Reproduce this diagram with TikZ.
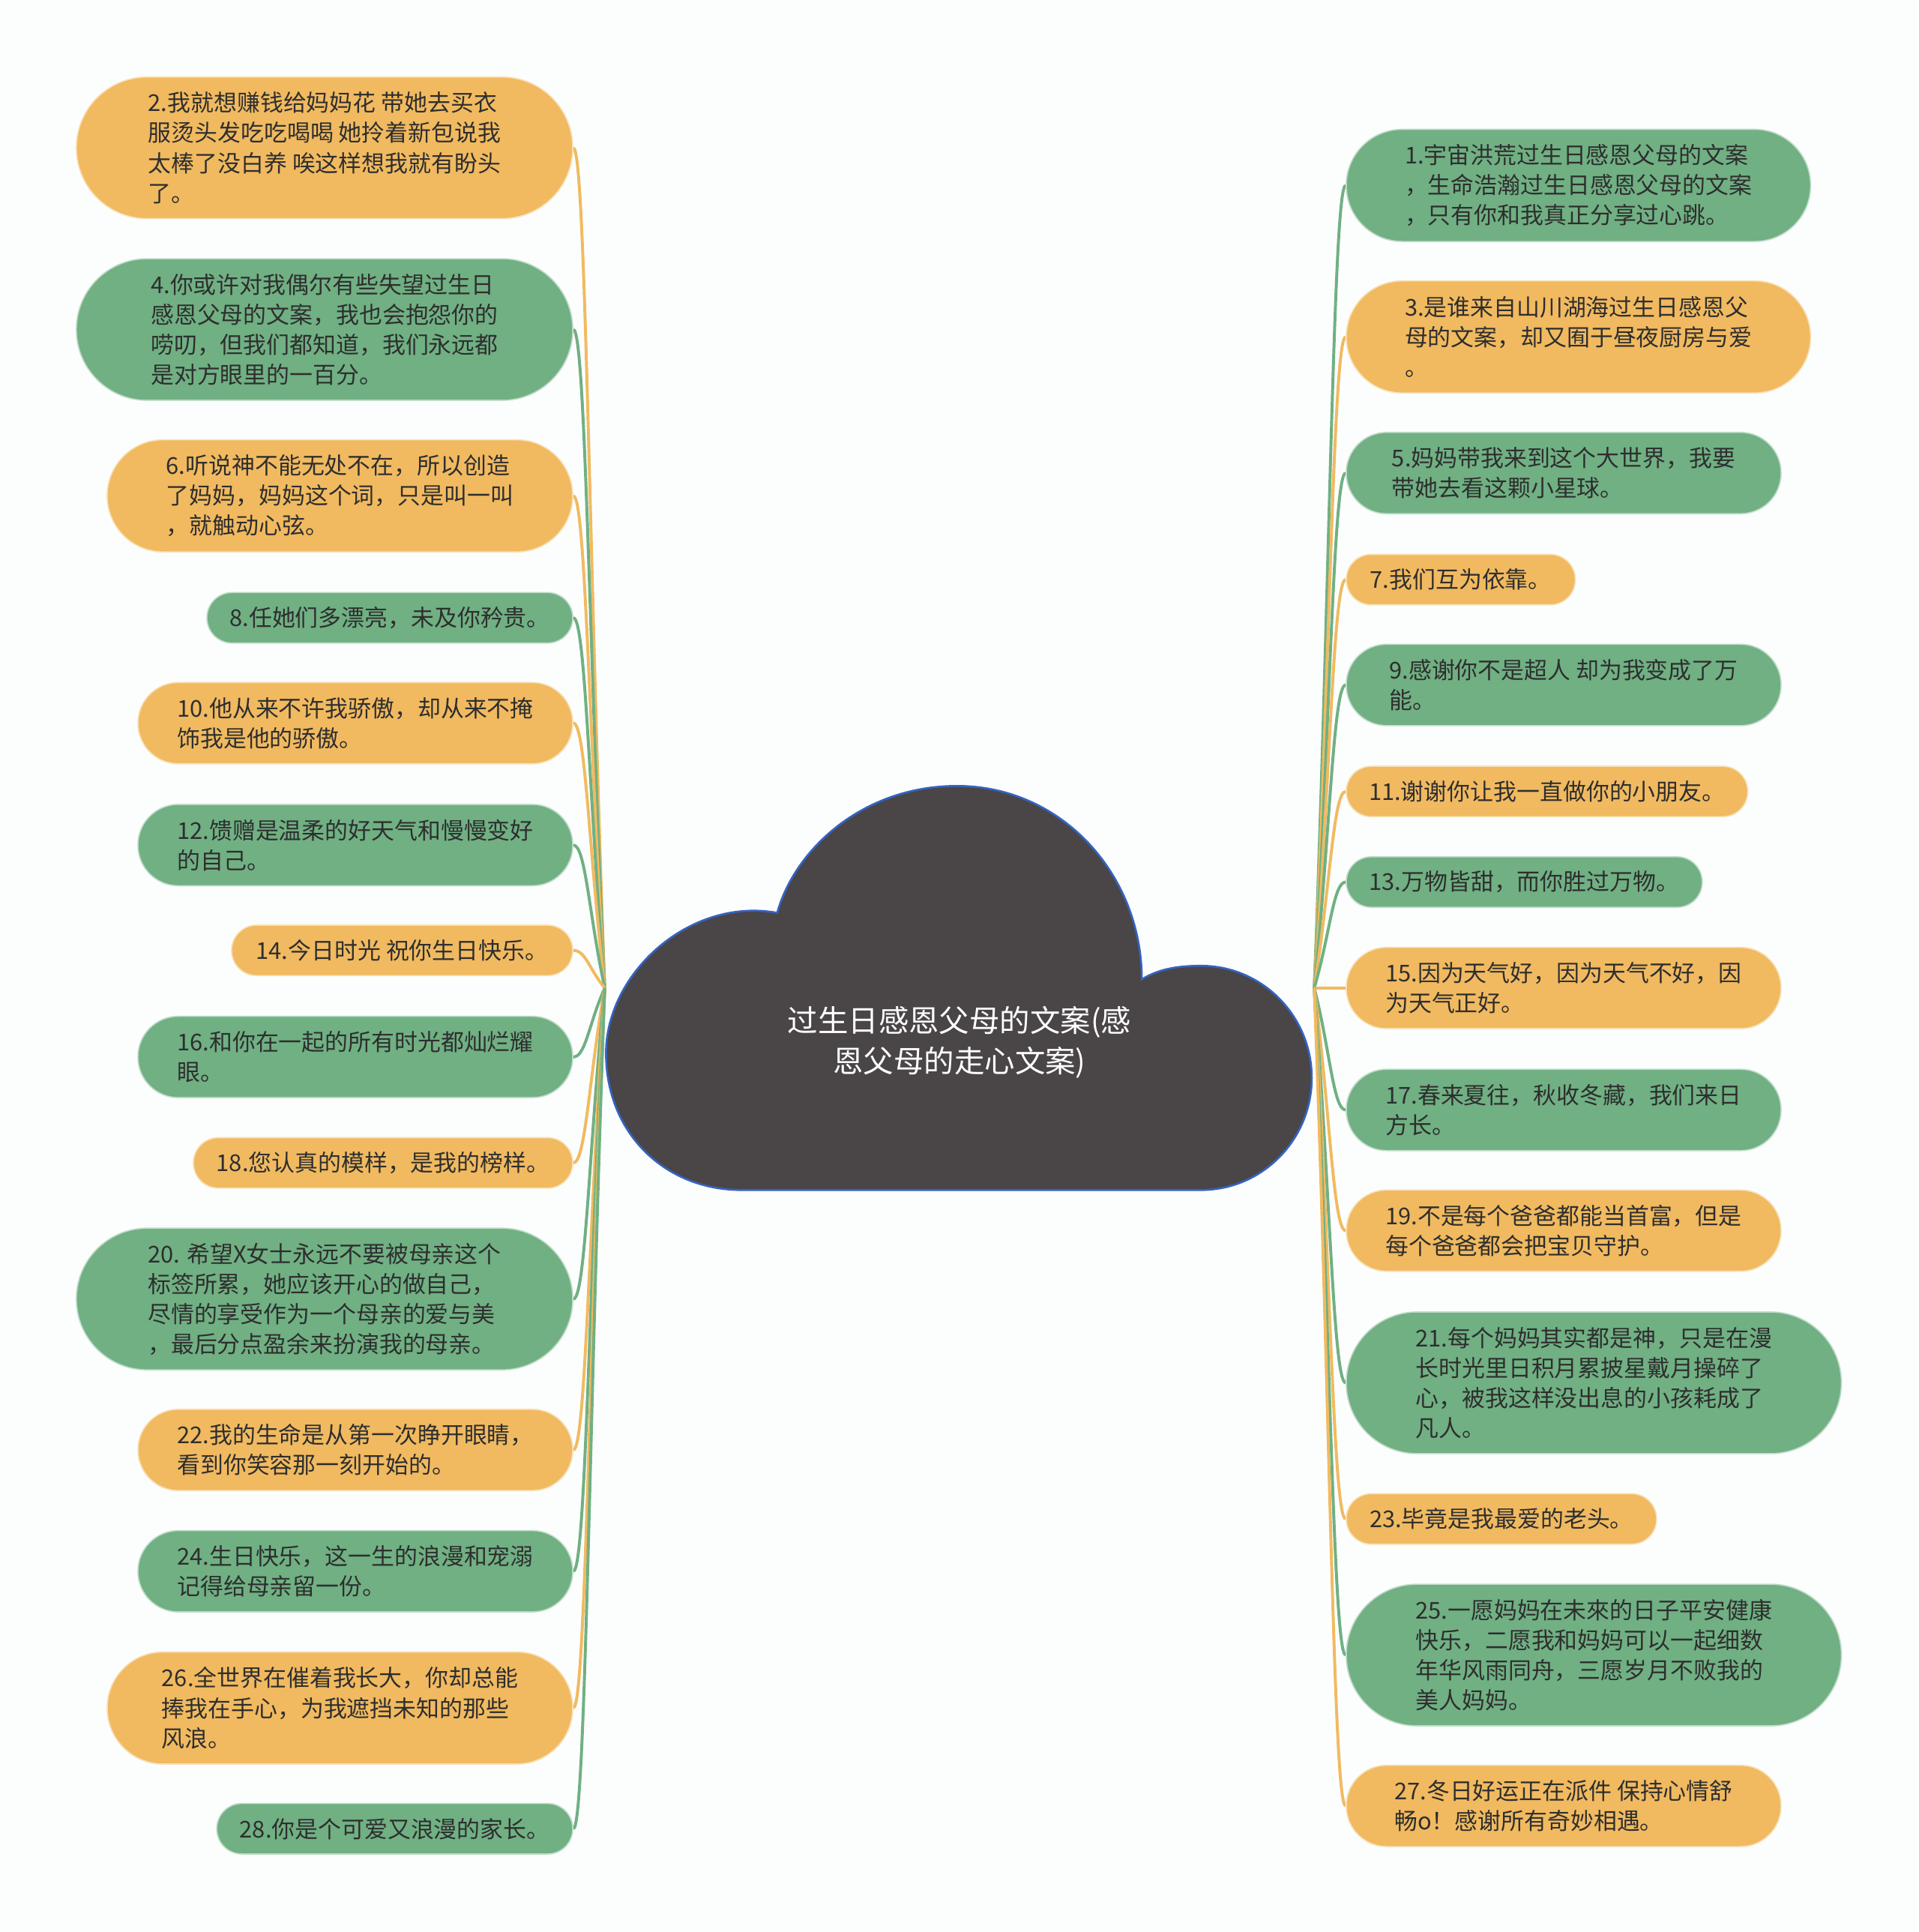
\documentclass[tikz,border=0pt]{standalone}
\usepackage{fontspec}
\setmainfont{Noto Sans CJK SC}
\usetikzlibrary{calc}
\definecolor{org}{HTML}{F1BA60}
\definecolor{grn}{HTML}{70B083}
\definecolor{txt}{HTML}{2E2E2E}
\definecolor{bgc}{HTML}{FCFEFE}
\definecolor{cloudfill}{HTML}{4A4546}
\definecolor{cloudedge}{HTML}{3563C0}
\pgfdeclarelayer{bglayer}
\pgfdeclarelayer{linelayer}
\pgfsetlayers{bglayer,linelayer,main}
\newcommand\leaffont{\fontsize{9.4pt}{12.2pt}\selectfont}
\newcommand\rootfont{\fontsize{12.3pt}{16.5pt}\selectfont}
\begin{document}
\begin{tikzpicture}[x=0.5pt,y=-0.5pt,
  leaf/.style={rectangle, inner sep=0pt, align=left, font=\leaffont, text=txt, line width=0.5pt},
  ha/.style={minimum height=20.5pt, rounded corners=10.2pt},
  hb/.style={minimum height=33pt, rounded corners=16.4pt},
  hc/.style={minimum height=45.5pt, rounded corners=22.7pt},
  hd/.style={minimum height=57.5pt, rounded corners=28.7pt},
  oleaf/.style={leaf, fill=org, draw=org!45!white},
  gleaf/.style={leaf, fill=grn, draw=grn!45!white},
  wd/.style={minimum width=#1},
  conn/.style={line width=1.2pt}]
\begin{pgfonlayer}{bglayer}
\fill[bgc] (0,0) rectangle (1558,1568.35);
\end{pgfonlayer}
\useasboundingbox (0,0) rectangle (1558,1568.35);

% cloud
\draw[fill=cloudfill, draw=cloudedge, line width=0.8pt]
  (602,966) -- (975,966)
  .. controls (1025,966) and (1065,925) .. (1065,875)
  .. controls (1065,825) and (1025,784) .. (975,784)
  .. controls (955,784) and (940,787) .. (927,795)
  .. controls (927,710) and (862,638) .. (777,638)
  .. controls (700,638) and (645,690) .. (631,741)
  .. controls (560,728) and (492,790) .. (492,855)
  .. controls (492,920) and (540,966) .. (602,966) -- cycle;
\node[font=\rootfont, text=white, align=center] (root) at (779,846)
  {过生日感恩父母的文案(感\\恩父母的走心文案)};

\coordinate (hubL) at (491,802);
\coordinate (hubR) at (1067,802);

% left leaves
\node[oleaf,hd,wd=201.5pt] (L1) at (263.5,120) {2.我就想赚钱给妈妈花 带她去买衣\\服烫头发吃吃喝喝 她拎着新包说我\\太棒了没白养 唉这样想我就有盼头\\了。};
\node[gleaf,hd,wd=201.5pt] (L2) at (263.5,267.5) {4.你或许对我偶尔有些失望过生日\\感恩父母的文案，我也会抱怨你的\\唠叨，但我们都知道，我们永远都\\是对方眼里的一百分。};
\node[oleaf,hc,wd=189pt] (L3) at (276,402.5) {6.听说神不能无处不在，所以创造\\了妈妈，妈妈这个词，只是叫一叫\\，就触动心弦。};
\node[gleaf,ha,wd=148.5pt] (L4) at (316.5,501.5) {8.任她们多漂亮，未及你矜贵。};
\node[oleaf,hb,wd=176.5pt] (L5) at (288.5,587) {10.他从来不许我骄傲，却从来不掩\\饰我是他的骄傲。};
\node[gleaf,hb,wd=176.5pt] (L6) at (288.5,686) {12.馈赠是温柔的好天气和慢慢变好\\的自己。};
\node[oleaf,ha,wd=138.5pt] (L7) at (326.5,771.5) {14.今日时光 祝你生日快乐。};
\node[gleaf,hb,wd=176.5pt] (L8) at (288.5,858) {16.和你在一起的所有时光都灿烂耀\\眼。};
\node[oleaf,ha,wd=154pt] (L9) at (311,944) {18.您认真的模样，是我的榜样。};
\node[gleaf,hd,wd=201.5pt] (L10) at (263.5,1054.5) {20. 希望X女士永远不要被母亲这个\\标签所累，她应该开心的做自己，\\尽情的享受作为一个母亲的爱与美\\，最后分点盈余来扮演我的母亲。};
\node[oleaf,hb,wd=176.5pt] (L11) at (288.5,1177) {22.我的生命是从第一次睁开眼睛，\\看到你笑容那一刻开始的。};
\node[gleaf,hb,wd=176.5pt] (L12) at (288.5,1275.5) {24.生日快乐，这一生的浪漫和宠溺\\记得给母亲留一份。};
\node[oleaf,hc,wd=189pt] (L13) at (276,1386.5) {26.全世界在催着我长大，你却总能\\捧我在手心，为我遮挡未知的那些\\风浪。};
\node[gleaf,ha,wd=144.5pt] (L14) at (320.5,1484.5) {28.你是个可爱又浪漫的家长。};

% right leaves
\node[gleaf,hc,wd=188.5pt] (R1) at (1281.5,150.5) {1.宇宙洪荒过生日感恩父母的文案\\，生命浩瀚过生日感恩父母的文案\\，只有你和我真正分享过心跳。};
\node[oleaf,hc,wd=188.5pt] (R2) at (1281.5,273.5) {3.是谁来自山川湖海过生日感恩父\\母的文案，却又囿于昼夜厨房与爱\\。};
\node[gleaf,hb,wd=176.5pt] (R3) at (1269.5,384) {5.妈妈带我来到这个大世界，我要\\带她去看这颗小星球。};
\node[oleaf,ha,wd=93pt] (R4) at (1186,470.5) {7.我们互为依靠。};
\node[gleaf,hb,wd=176.5pt] (R5) at (1269.5,556) {9.感谢你不是超人 却为我变成了万\\能。};
\node[oleaf,ha,wd=163pt] (R6) at (1256,642.5) {11.谢谢你让我一直做你的小朋友。};
\node[gleaf,ha,wd=144.5pt] (R7) at (1237.5,716) {13.万物皆甜，而你胜过万物。};
\node[oleaf,hb,wd=176.5pt] (R8) at (1269.5,802) {15.因为天气好，因为天气不好，因\\为天气正好。};
\node[gleaf,hb,wd=176.5pt] (R9) at (1269.5,901) {17.春来夏往，秋收冬藏，我们来日\\方长。};
\node[oleaf,hb,wd=176.5pt] (R10) at (1269.5,999) {19.不是每个爸爸都能当首富，但是\\每个爸爸都会把宝贝守护。};
\node[gleaf,hd,wd=201pt] (R11) at (1294,1122.5) {21.每个妈妈其实都是神，只是在漫\\长时光里日积月累披星戴月操碎了\\心，被我这样没出息的小孩耗成了\\凡人。};
\node[oleaf,ha,wd=126pt] (R12) at (1219,1233) {23.毕竟是我最爱的老头。};
\node[gleaf,hd,wd=201pt] (R13) at (1294,1343.5) {25.一愿妈妈在未來的日子平安健康\\快乐，二愿我和妈妈可以一起细数\\年华风雨同舟，三愿岁月不败我的\\美人妈妈。};
\node[oleaf,hb,wd=176.5pt] (R14) at (1269.5,1466) {27.冬日好运正在派件 保持心情舒\\畅o！感谢所有奇妙相遇。};

% connectors
\begin{pgfonlayer}{linelayer}
\foreach \n/\c in {L1/org,L2/grn,L3/org,L4/grn,L5/org,L6/grn,L7/org,L8/grn,L9/org,L10/grn,L11/org,L12/grn,L13/org,L14/grn}{
  \draw[conn, draw=\c] (hubL) .. controls ($(hubL)!0.5!(\n.east)$) and ($(\n.east)+(10,0)$) .. (\n.east);
}
\foreach \n/\c in {R1/grn,R2/org,R3/grn,R4/org,R5/grn,R6/org,R7/grn,R8/org,R9/grn,R10/org,R11/grn,R12/org,R13/grn,R14/org}{
  \draw[conn, draw=\c] (hubR) .. controls ($(hubR)!0.5!(\n.west)$) and ($(\n.west)+(-10,0)$) .. (\n.west);
}
\end{pgfonlayer}
\end{tikzpicture}
\end{document}
